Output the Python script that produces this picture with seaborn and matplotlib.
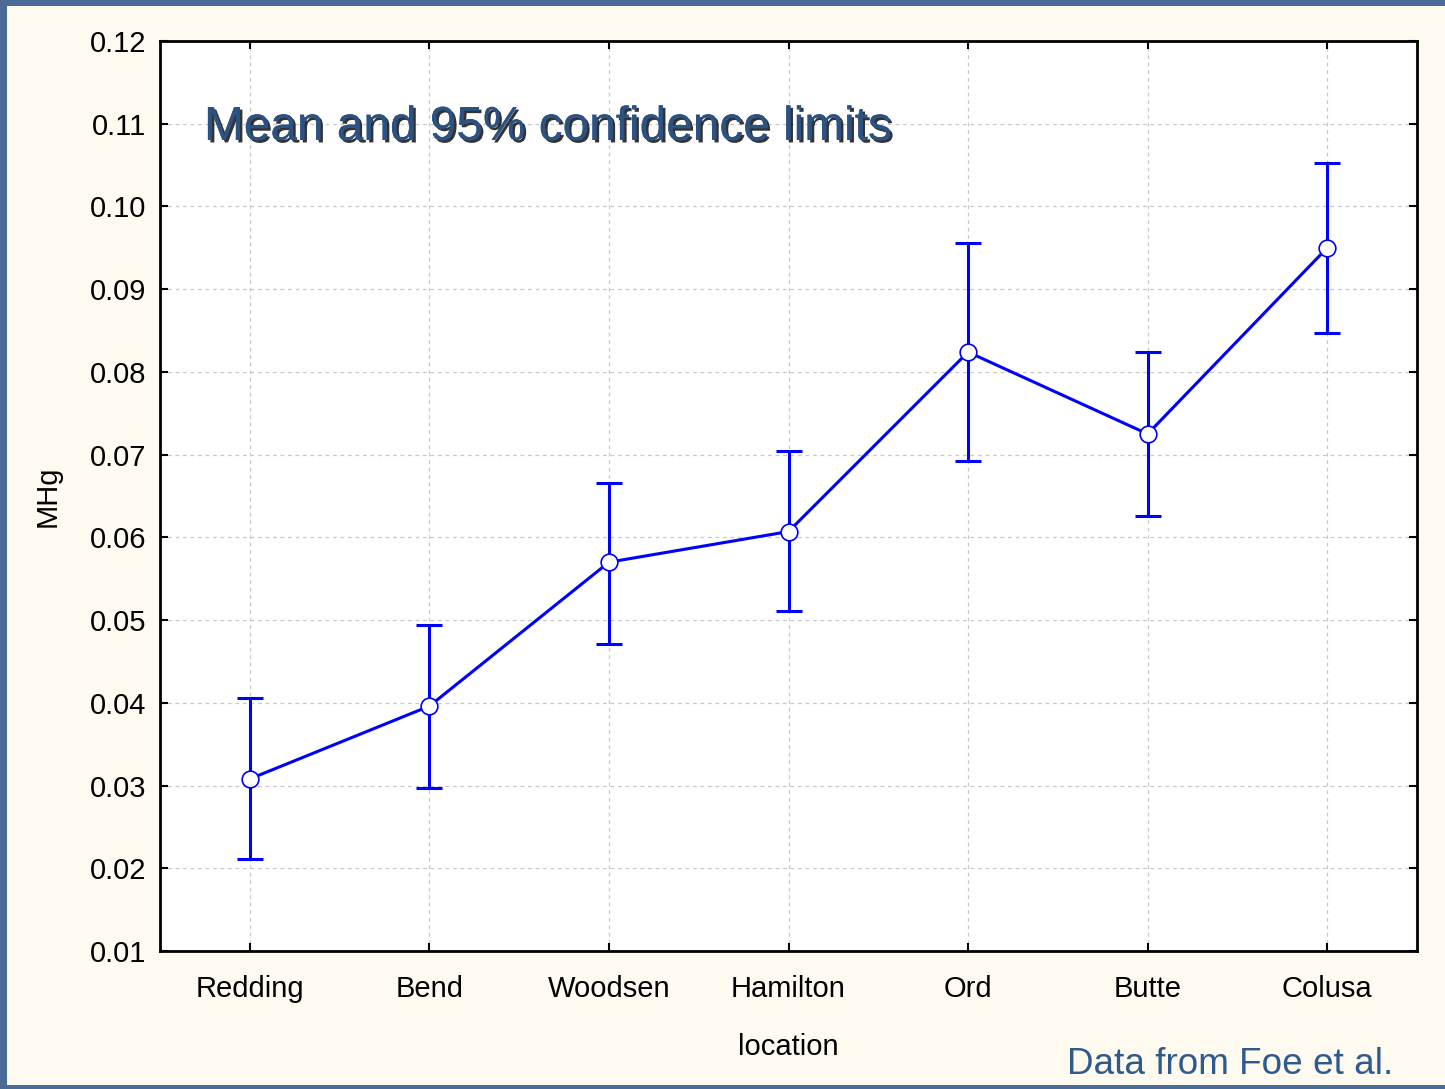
import matplotlib
matplotlib.use("Agg")
import matplotlib.pyplot as plt
import matplotlib.patheffects as pe
from matplotlib.patches import Rectangle
import numpy as np
import seaborn as sns

# Mean MHg per location with 95% confidence limits
locations = ["Redding", "Bend", "Woodsen", "Hamilton", "Ord", "Butte", "Colusa"]
mean_mhg = [0.0308, 0.0396, 0.0570, 0.0607, 0.0824, 0.0725, 0.0950]
upper_ci = [0.0406, 0.0494, 0.0666, 0.0705, 0.0956, 0.0824, 0.1052]
lower_ci = [0.0211, 0.0297, 0.0471, 0.0511, 0.0692, 0.0626, 0.0847]
y_ticks = [0.01, 0.02, 0.03, 0.04, 0.05, 0.06, 0.07, 0.08, 0.09, 0.10, 0.11, 0.12]

sns.set_theme(style="white")
plt.rcParams["font.family"] = ["Liberation Sans", "DejaVu Sans"]

cream = "#fefaf0"
frame_blue = "#4b6b97"
line_blue = "#0000ff"

fig = plt.figure(figsize=(14.45, 10.89), dpi=100, facecolor=cream)

# slide frame: blue strips on the left, top and bottom
for rect in [(0, 0, 7 / 1445, 1), (0, 1 - 6 / 1089, 1, 6 / 1089), (0, 0, 1, 4 / 1089)]:
    fig.add_artist(Rectangle(rect[:2], rect[2], rect[3], transform=fig.transFigure,
                             facecolor=frame_blue, edgecolor="none", zorder=0))

ax = fig.add_axes([160 / 1445, 1 - 951 / 1089, (1417 - 160) / 1445, (951 - 41) / 1089])
ax.set_facecolor("white")

x = np.arange(len(locations))
means = np.array(mean_mhg)
yerr = np.vstack([means - np.array(lower_ci), np.array(upper_ci) - means])

ax.errorbar(x, means, yerr=yerr, fmt="none", ecolor=line_blue, elinewidth=2.2,
            capsize=9.5, capthick=2.2, zorder=3)
sns.lineplot(x=x, y=means, ax=ax, color=line_blue, linewidth=2.2, marker="o",
             markersize=12, markerfacecolor="white", markeredgecolor=line_blue,
             markeredgewidth=1.2, zorder=4)

ax.set_xlim(-0.5, len(locations) - 0.5)
ax.set_ylim(0.01, 0.12)
ax.set_xticks(x)
ax.set_xticklabels(locations)
ax.set_yticks(y_ticks)
ax.set_yticklabels([f"{v:.2f}" for v in y_ticks])

ax.grid(True, color="#c8c8c8", linestyle=(0, (3, 3)), linewidth=0.9)
ax.set_axisbelow(True)
for s in ax.spines.values():
    s.set_color("black")
    s.set_linewidth(2)
    s.set_visible(True)

ax.tick_params(axis="both", which="both", direction="in", length=6, width=1.5,
               color="black", top=True, right=True, bottom=True, left=True,
               labelsize=21, labelcolor="black", pad=10)
ax.tick_params(axis="x", pad=17)

ax.set_xlabel("location", fontsize=21, color="black", labelpad=22)
ax.set_ylabel("MHg", fontsize=21, color="black", labelpad=20)

ax.text(0.035, 0.905, "Mean and 95% confidence limits", transform=ax.transAxes,
        fontsize=34.4, color="#2c5282", ha="left", va="center",
        path_effects=[pe.withSimplePatchShadow(offset=(1.8, -1.8), shadow_rgbFace="black", alpha=0.8),
                      pe.Normal()])

fig.text(1393 / 1445, 1 - 1064 / 1089, "Data from Foe et al.", fontsize=26.6,
         color="#2f5a8c", ha="right", va="center")

fig.savefig("out.png", dpi=100, facecolor=cream)
